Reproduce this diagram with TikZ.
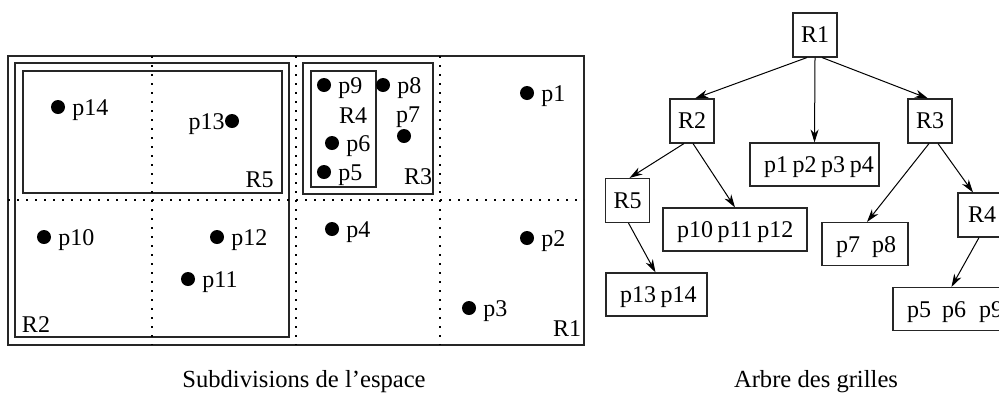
\documentclass[tikz,border=0pt]{standalone}
\usepackage{fontspec}
\setmainfont{Liberation Serif}
\usetikzlibrary{arrows.meta,calc}
\newcommand\tighttext[1]{\mbox{\spaceskip=2.3pt\relax #1}}
\begin{document}
\begin{tikzpicture}[x=0.5pt,y=-0.5pt,
  every node/.style={font=\fontsize{12}{14}\selectfont},
  frame/.style={line width=0.55pt, draw=black!85},
  gridline/.style={line width=0.8pt, dash pattern=on 0.8pt off 3.7pt},
  dot/.style={circle, fill, inner sep=0pt, minimum size=7pt},
  lab/.style={inner sep=0pt, anchor=base west},
  rlab/.style={inner sep=0pt},
  rbox/.style={draw=black!85, line width=0.55pt, minimum width=22pt, minimum height=22pt, inner sep=0pt, text height=7.9pt, text depth=0pt},
  pbox/.style={draw=black!85, line width=0.55pt, minimum height=21.5pt, inner ysep=0pt, inner xsep=7pt, align=left, text height=8pt, text depth=0pt},
  arr/.style={-{Stealth[length=6.5pt,width=4pt,inset=2pt]}, line width=0.5pt},
  capt/.style={inner sep=0pt, anchor=base, font=\fontsize{12.3}{14}\selectfont}]
\useasboundingbox (0,0) rectangle (999,392);

% ---- left panel: space subdivisions ----
\draw[frame] (8,56) rectangle (584,345);
\draw[frame] (15,63) rectangle (289,337);
\draw[frame] (23,71) rectangle (282,193);
\draw[frame] (303,63) rectangle (433,194);
\draw[frame] (311,71) rectangle (376,187);
\draw[gridline] (152,56) -- (152,345);
\draw[gridline] (296,56) -- (296,345);
\draw[gridline] (440,56) -- (440,345);
\draw[gridline] (8,200) -- (584,200);

\foreach \n/\x/\y in {14/58/107, 10/44/237, 12/217/237, 11/188/279, 9/324/85, 8/383/85, 6/332/143, 5/324/172, 1/527/93, 4/332/229, 2/527/238, 3/469/308}{
  \node[dot] (d\n) at (\x,\y) {};
  \node[lab] (l\n) at ($(d\n)+(14,8)$) {p\n};
}
\node[dot] (d13) at (232,121) {};
\node[inner sep=0pt, anchor=base east] (l13) at ($(d13)+(-7,8)$) {p13};
\node[dot] (d7) at (404,136) {};
\node[inner sep=0pt, anchor=base] (l7) at (408,122) {p7};

\node[rlab] (tR5) at (259.5,180) {R5};
\node[rlab] (tR2) at (36,325) {R2};
\node[rlab] (tR3) at (418,177) {R3};
\node[rlab] (tR1) at (567,329) {R1};
\node[inner sep=0pt, anchor=base] (tR4) at (353,123) {R4};

% ---- right panel: tree ----
\node[rbox] (R1) at (815,35) {R1};
\node[rbox] (R2) at (692,121) {R2};
\node[rbox] (R3) at (930,121) {R3};
\node[rbox] (R5) at (627.5,200.5) {R5};
\node[rbox, minimum width=24pt] (R4) at (982,215) {R4};
\node[pbox, text width=50.5pt] (P1) at (814.5,164.5) {\tighttext{p1 p2 p3 p4}};
\node[pbox, text width=58pt] (P10) at (735,229.5) {\tighttext{p10 p11 p12}};
\node[pbox, text width=29pt] (P7) at (865,244) {\tighttext{p7\hspace{6pt}p8}};
\node[pbox, text width=36.5pt] (P13) at (656.5,294.5) {\tighttext{p13 p14}};
\node[pbox, text width=47.5pt] (P5) at (954.5,309) {\tighttext{p5\hspace{5.5pt}p6\hspace{6.5pt}p9}};

\draw[arr] ($(R1.south)+(-8,0)$) -- ($(R2.north)+(3,0)$);
\draw[arr] (R1.south) -- (P1.north);
\draw[arr] ($(R1.south)+(7,0)$) -- ($(R3.north)+(-2,0)$);
\draw[arr] ($(R2.south)+(-8,0)$) -- ($(R5.north)+(2,0)$);
\draw[arr] ($(R2.south)+(1,0)$) -- (P10.north);
\draw[arr] ($(R5.south)+(1,0)$) -- ($(P13.north)+(-1,0)$);
\draw[arr] ($(R3.south)+(-1,0)$) -- ($(P7.north)+(2,0)$);
\draw[arr] ($(R3.south)+(8,0)$) -- ($(R4.north)+(-9,0)$);
\draw[arr] ($(R4.south)+(-3,0)$) -- ($(P5.north west)+(59,0)$);

% ---- captions ----
\node[capt] (cap1) at (304,387) {Subdivisions de l'espace};
\node[capt] (cap2) at (816,387) {Arbre des grilles};
\end{tikzpicture}
\end{document}
